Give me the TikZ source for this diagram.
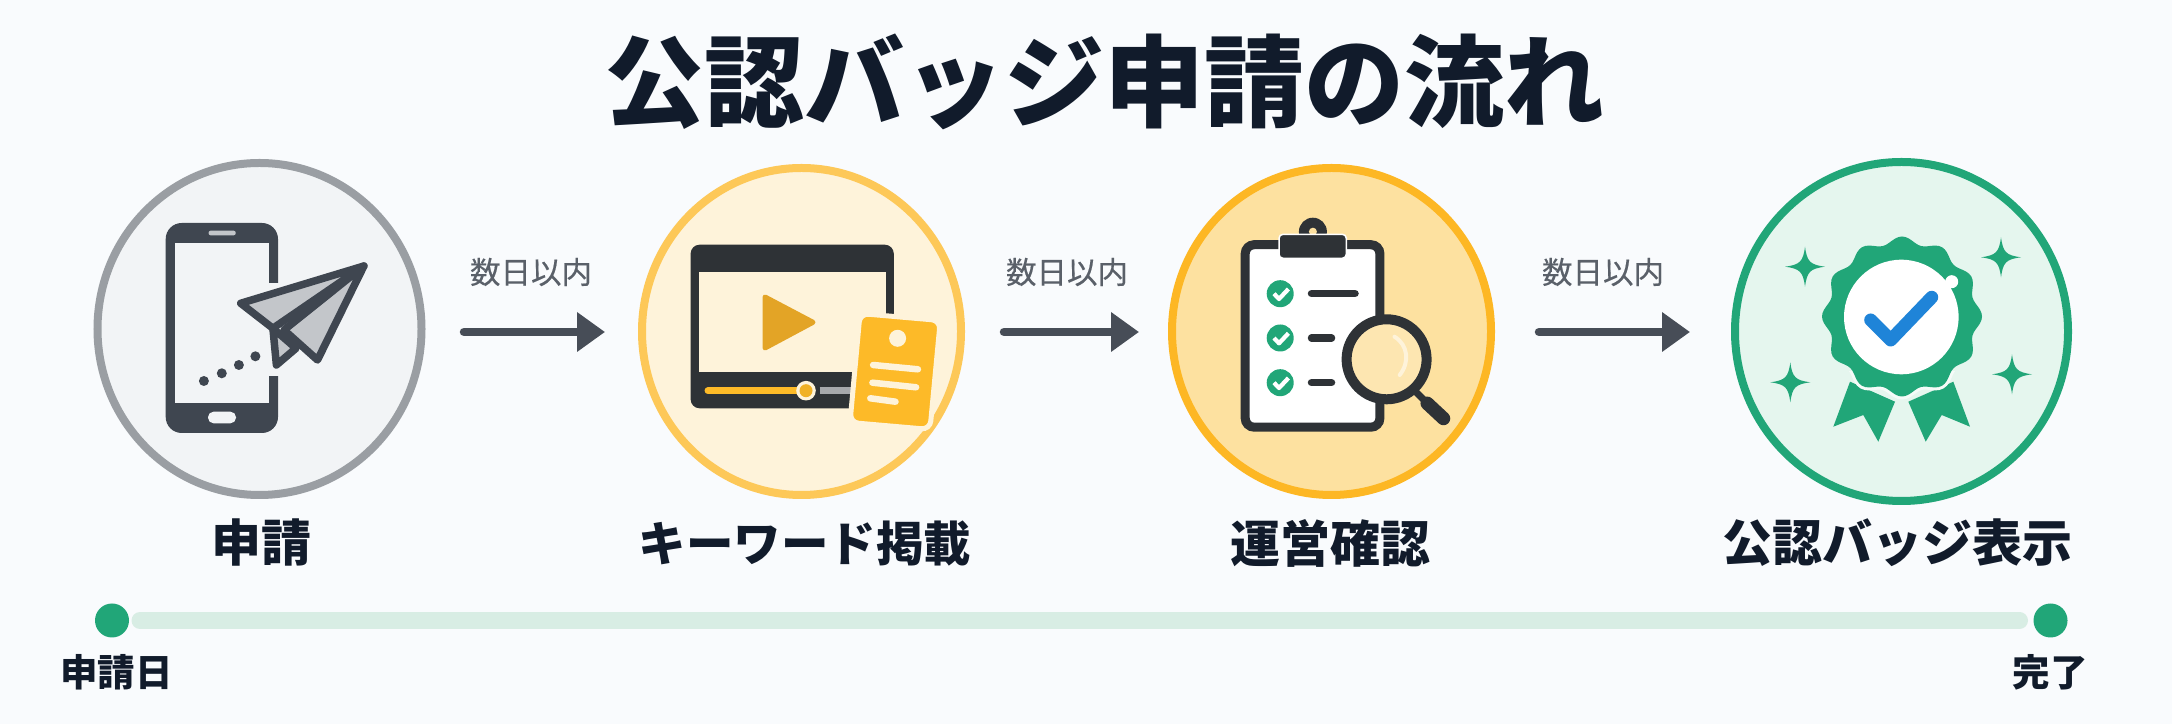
\documentclass[tikz,border=0pt]{standalone}
\usepackage{fontspec}
\setmainfont{Noto Sans CJK JP}
\newfontfamily\gapfont[FakeBold=0.35]{Noto Sans CJK JP}
\usetikzlibrary{arrows.meta,positioning,shapes.geometric}

\definecolor{pagebg}{HTML}{F9FBFD}
\definecolor{inkdark}{HTML}{111B2B}
\definecolor{inkgray}{HTML}{5A6069}
\definecolor{arrowgray}{HTML}{474D57}
\definecolor{phonegray}{HTML}{3F4650}
\definecolor{softgray}{HTML}{F2F4F6}
\definecolor{ringgray}{HTML}{9A9EA3}
\definecolor{planegray}{HTML}{C3C6CA}
\definecolor{softyellow}{HTML}{FEF3DA}
\definecolor{ringyellow}{HTML}{FDC858}
\definecolor{cardyellow}{HTML}{FDBA28}
\definecolor{playyellow}{HTML}{E3A426}
\definecolor{softorange}{HTML}{FDE1A0}
\definecolor{ringorange}{HTML}{FDB724}
\definecolor{softgreen}{HTML}{E5F6EE}
\definecolor{badgegreen}{HTML}{21A678}
\definecolor{trackgreen}{HTML}{D8EDE4}
\definecolor{iconblack}{HTML}{2E3236}
\definecolor{checkblue}{HTML}{1F84D8}

\begin{document}
\begin{tikzpicture}[
    x=0.4pt, y=-0.4pt,
    stepring/.style={ellipse, draw, line width=3.2pt, inner sep=0pt},
    flowarrow/.style={-{Triangle[length=11.2pt,width=15.2pt]}, arrowgray, line width=3.4pt, line cap=round},
    gaplabel/.style={inkgray, font=\gapfont\fontsize{12.2}{14}\selectfont},
    steplabel/.style={inkdark, font=\bfseries\fontsize{20}{22}\selectfont},
    datelabel/.style={inkdark, font=\bfseries\fontsize{15}{17}\selectfont},
    enddot/.style={circle, fill=badgegreen, minimum size=13.6pt, inner sep=0pt},
    sparkle/.pic={\fill[badgegreen] (0,-20) .. controls (2,-5) and (5,-2) .. (20,0) .. controls (5,2) and (2,5) .. (0,20)
        .. controls (-2,5) and (-5,2) .. (-20,0) .. controls (-5,-2) and (-2,-5) .. (0,-20) -- cycle;}
]
\useasboundingbox (0,0) rectangle (2172,724);
\fill[pagebg] (0,0) rectangle (2172,724);

% Title
\node[inkdark, font=\bfseries\fontsize{40}{48}\selectfont] (title) at (1104,82) {公認バッジ申請の流れ};

% Step circles
\node[stepring, draw=ringgray, fill=softgray, minimum width=129.6pt, minimum height=132.8pt] (apply) at (259.5,329) {};
\node[stepring, draw=ringyellow, fill=softyellow, minimum width=127.6pt, minimum height=130.8pt] (post) at (801.5,331.5) {};
\node[stepring, draw=ringorange, fill=softorange, minimum width=127.6pt, minimum height=130.8pt] (review) at (1331.5,331.5) {};
\node[stepring, draw=badgegreen, fill=softgreen, minimum width=133.2pt, minimum height=135.6pt] (badge) at (1901.5,331.5) {};

% Step labels
\node[steplabel] (applylabel) at (261,543) {申請};
\node[steplabel, font=\bfseries\fontsize{19}{22}\selectfont] (postlabel) at (805,543) {キーワード掲載};
\node[steplabel] (reviewlabel) at (1330,543) {運営確認};
\node[steplabel] (badgelabel) at (1897,543) {公認バッジ表示};

% Arrows between the circles
\coordinate (arrowrow) at (0,332);
\draw[flowarrow, shorten <=15.4pt, shorten >=13.2pt] (apply.east |- arrowrow) -- (post.west |- arrowrow);
\draw[flowarrow, shorten <=15.6pt, shorten >=11.6pt] (post.east |- arrowrow) -- (review.west |- arrowrow);
\draw[flowarrow, shorten <=17.6pt, shorten >=16.4pt] (review.east |- arrowrow) -- (badge.west |- arrowrow);
\node[gaplabel] (gap1) at (531,272) {数日以内};
\node[gaplabel] (gap2) at (1067,272) {数日以内};
\node[gaplabel] (gap3) at (1603,272) {数日以内};

% Timeline
\node[enddot] (startdot) at (112,620.5) {};
\node[enddot] (finishdot) at (2050.5,620.5) {};
\draw[trackgreen, line width=6.8pt, line cap=round, shorten <=4.2pt, shorten >=5.4pt] (startdot.east) -- (finishdot.west);
\node[datelabel] (startlabel) at (116.5,672) {申請日};
\node[datelabel] (endlabel) at (2050,672) {完了};

% Phone and paper plane
\fill[phonegray, rounded corners=6.4pt] (165.7,223) rectangle (278,433);
\fill[softgray] (175,242.7) rectangle (268.6,402.7);
\fill[softgray] (268,283) rectangle (282,376);
\fill[planegray, rounded corners=0.8pt] (208.6,230.7) rectangle (235.7,235.3);
\fill[softgray, rounded corners=2.2pt] (208,411.7) rectangle (236,423.3);
\foreach \dx/\dy in {203.9/381, 221.8/373.3, 238.9/365, 255.4/356.3}
    \fill[phonegray] (\dx,\dy) circle (5);
\begin{scope}[draw=phonegray, fill=planegray, line width=3pt, line join=round]
\filldraw (272.9,328.3) -- (276.4,365) -- (296,348.3) -- cycle;
\filldraw (363.9,266) -- (317.5,360) -- (284,330) -- cycle;
\filldraw (363.9,266) -- (240.7,303.3) -- (272.9,328.3) -- cycle;
\end{scope}

% Video player and card
\fill[iconblack, rounded corners=3.6pt] (690.6,244.7) rectangle (893.8,408.3);
\fill[softyellow] (698.5,272.3) rectangle (885.8,372.3);
\fill[playyellow, draw=playyellow, line width=2pt, line join=round] (765,297) -- (813,322.3) -- (765,348) -- cycle;
\draw[cardyellow, line width=2.8pt, line cap=round] (708,390.7) -- (806,390.7);
\draw[planegray!85!black, line width=2.6pt] (819.7,390.7) -- (852,390.7);
\fill[softyellow] (806,390.7) circle (9.8);
\fill[cardyellow!95!black] (806,390.7) circle (6.5);
\draw[softyellow, fill=cardyellow, line width=2pt, rounded corners=3.4pt]
    (860,313.5) -- (940.3,320.5) -- (930,429.5) -- (850,422.5) -- cycle;
\fill[softyellow] (897.6,338.3) circle (8.5);
\draw[softyellow, line width=2.6pt, line cap=round] (873.1,365) -- (917.9,369.3);
\draw[softyellow, line width=2.6pt, line cap=round] (872.4,382.7) -- (916.1,387.3);
\draw[softyellow, line width=2.6pt, line cap=round] (870.3,398.3) -- (895.5,401.7);

% Clipboard and magnifier
\draw[iconblack, fill=white, line width=3.6pt, rounded corners=3.6pt] (1245.2,244.7) rectangle (1379.9,427.2);
\fill[iconblack] (1312.9,231.7) circle (14);
\fill[softorange] (1312.9,231.7) circle (4);
\draw[white, fill=iconblack, line width=0.6pt, rounded corners=1.6pt] (1279,234.3) rectangle (1346.3,258.3);
\foreach \cy in {293.7,338,382.7} {
    \fill[badgegreen] (1280.2,\cy) circle (13.5);
    \draw[white, line width=1.7pt, line join=round] (1274,\cy) -- (1279,\cy+5.3) -- (1288.4,\cy-4.7);
}
\foreach \cy/\lineend in {293.7/1355, 338/1331.5, 382.7/1331.5}
    \draw[iconblack, line width=3pt, line cap=round] (1311.5,\cy) -- (\lineend,\cy);
\draw[iconblack, line width=2.8pt, line cap=round] (1412,388) -- (1427,403);
\draw[iconblack, line width=5.4pt, line cap=round] (1427.2,403.3) -- (1443.5,418.5);
\draw[iconblack, fill=softorange!70!softyellow, line width=4pt] (1386.6,359.3) circle (40);
\draw[softyellow, line width=1.6pt, line cap=round] (1394.5,336.7) .. controls (1408,345) and (1410,362) .. (1399.7,375);

% Badge
\foreach \sx/\sy in {1805/266.7, 2001/257.3, 1790.3/382.3, 2012/374.3}
    \pic at (\sx,\sy) {sparkle};
\fill[badgegreen, line join=round] (1850,381.7) -- (1895,401.7) -- (1878.3,441.7) -- (1863.3,415) -- (1833.3,426.7) -- cycle;
\fill[badgegreen, line join=round] (1953.3,381.7) -- (1970,426.7) -- (1941.7,415) -- (1925.7,441.7) -- (1908.3,401.7) -- cycle;
\begin{scope}
\clip (1820,372) rectangle (1985,420);
\draw[softgreen!40!white, line width=2.4pt] plot[domain=0:360,samples=145,smooth] ({1902+(76.5+3.5*cos(12*\x))*cos(\x)},{316.5+(76.5+3.5*cos(12*\x))*sin(\x)});
\end{scope}
\fill[badgegreen] plot[domain=0:360,samples=145,smooth] ({1902+(76.5+3.5*cos(12*\x))*cos(\x)},{316.5+(76.5+3.5*cos(12*\x))*sin(\x)}) -- cycle;
\fill[white] (1901.3,317) circle (57.3);
\fill[white] (1951.7,281.7) circle (6.5);
\draw[checkblue, line width=5.2pt, line cap=round, line join=round] (1870.7,320) -- (1890.7,340) -- (1931.7,297.3);
\end{tikzpicture}
\end{document}
